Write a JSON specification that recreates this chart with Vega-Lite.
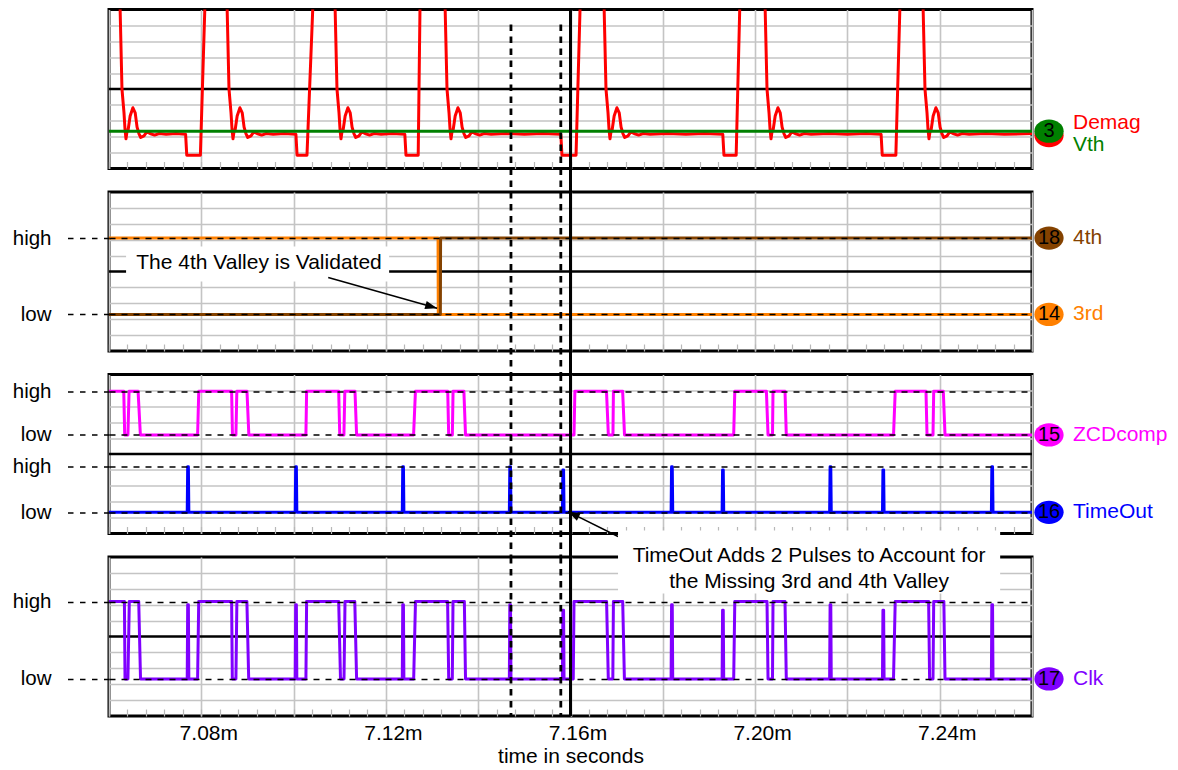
{
"$schema": "https://vega.github.io/schema/vega-lite/v6.json",
"background": "white",
"padding": {"left": 10, "top": 6.5, "right": 5, "bottom": 5},
"bounds": "flush",
"spacing": 23.5,
"config": {
  "font": "Liberation Sans",
  "view": {"stroke": "black", "strokeWidth": 3, "fill": "white"},
  "axis": {"labelFont": "Liberation Sans", "titleFont": "Liberation Sans"}
},
"datasets": {
"demag": [
{"t":7060,"v":10.4},
{"t":7062.38,"v":10.4},{"t":7062.81,"v":5.0},{"t":7063.25,"v":3.5},{"t":7063.46,"v":2.5},{"t":7063.68,"v":1.87},{"t":7063.88,"v":2.3},{"t":7064.13,"v":2.4},{"t":7064.58,"v":3.3},{"t":7065.18,"v":3.82},{"t":7065.68,"v":3.5},{"t":7066.08,"v":2.6},{"t":7066.48,"v":2.2},{"t":7066.88,"v":1.95},{"t":7067.58,"v":2.05},{"t":7068.18,"v":2.3},{"t":7068.88,"v":2.2},{"t":7069.88,"v":2.1},{"t":7070.88,"v":2.2},{"t":7072.38,"v":2.15},{"t":7074.5,"v":2.2},{"t":7076.6,"v":2.15},{"t":7076.85,"v":0.84},{"t":7079.8,"v":0.84},{"t":7080.8,"v":10.4},
{"t":7085.57,"v":10.4},{"t":7086.0,"v":5.0},{"t":7086.44,"v":3.5},{"t":7086.65,"v":2.5},{"t":7086.87,"v":1.87},{"t":7087.07,"v":2.3},{"t":7087.32,"v":2.4},{"t":7087.77,"v":3.3},{"t":7088.37,"v":3.82},{"t":7088.87,"v":3.5},{"t":7089.27,"v":2.6},{"t":7089.67,"v":2.2},{"t":7090.07,"v":1.95},{"t":7090.77,"v":2.05},{"t":7091.37,"v":2.3},{"t":7092.07,"v":2.2},{"t":7093.07,"v":2.1},{"t":7094.07,"v":2.2},{"t":7095.57,"v":2.15},{"t":7098.0,"v":2.2},{"t":7100.5,"v":2.15},{"t":7100.75,"v":0.84},{"t":7102.9,"v":0.84},{"t":7104.2,"v":10.4},
{"t":7108.97,"v":10.4},{"t":7109.4,"v":5.0},{"t":7109.84,"v":3.5},{"t":7110.05,"v":2.5},{"t":7110.27,"v":1.87},{"t":7110.47,"v":2.3},{"t":7110.72,"v":2.4},{"t":7111.17,"v":3.3},{"t":7111.77,"v":3.82},{"t":7112.27,"v":3.5},{"t":7112.67,"v":2.6},{"t":7113.07,"v":2.2},{"t":7113.47,"v":1.95},{"t":7114.17,"v":2.05},{"t":7114.77,"v":2.3},{"t":7115.47,"v":2.2},{"t":7116.47,"v":2.1},{"t":7117.47,"v":2.2},{"t":7118.97,"v":2.15},{"t":7121.5,"v":2.2},{"t":7124.1,"v":2.15},{"t":7124.35,"v":0.84},{"t":7127.0,"v":0.84},{"t":7127.4,"v":10.4},
{"t":7132.81,"v":10.4},{"t":7133.24,"v":5.0},{"t":7133.68,"v":3.5},{"t":7133.89,"v":2.5},{"t":7134.11,"v":1.87},{"t":7134.31,"v":2.3},{"t":7134.56,"v":2.4},{"t":7135.01,"v":3.3},{"t":7135.61,"v":3.82},{"t":7136.11,"v":3.5},{"t":7136.51,"v":2.6},{"t":7136.91,"v":2.2},{"t":7137.31,"v":1.95},{"t":7138.01,"v":2.05},{"t":7138.61,"v":2.3},{"t":7139.31,"v":2.2},{"t":7140.31,"v":2.1},{"t":7141.31,"v":2.2},{"t":7142.81,"v":2.15},{"t":7146.0,"v":2.2},{"t":7150.0,"v":2.15},{"t":7154.0,"v":2.2},{"t":7157.9,"v":2.15},{"t":7158.15,"v":0.84},{"t":7161.2,"v":0.84},{"t":7162.1,"v":10.4},
{"t":7167.26,"v":10.4},{"t":7167.69,"v":5.0},{"t":7168.13,"v":3.5},{"t":7168.34,"v":2.5},{"t":7168.56,"v":1.87},{"t":7168.76,"v":2.3},{"t":7169.01,"v":2.4},{"t":7169.46,"v":3.3},{"t":7170.06,"v":3.82},{"t":7170.56,"v":3.5},{"t":7170.96,"v":2.6},{"t":7171.36,"v":2.2},{"t":7171.76,"v":1.95},{"t":7172.46,"v":2.05},{"t":7173.06,"v":2.3},{"t":7173.76,"v":2.2},{"t":7174.76,"v":2.1},{"t":7175.76,"v":2.2},{"t":7177.26,"v":2.15},{"t":7181.0,"v":2.2},{"t":7185.0,"v":2.15},{"t":7189.0,"v":2.2},{"t":7193.0,"v":2.15},{"t":7193.25,"v":0.84},{"t":7195.9,"v":0.84},{"t":7196.7,"v":10.4},
{"t":7202.15,"v":10.4},{"t":7202.58,"v":5.0},{"t":7203.02,"v":3.5},{"t":7203.23,"v":2.5},{"t":7203.45,"v":1.87},{"t":7203.65,"v":2.3},{"t":7203.9,"v":2.4},{"t":7204.35,"v":3.3},{"t":7204.95,"v":3.82},{"t":7205.45,"v":3.5},{"t":7205.85,"v":2.6},{"t":7206.25,"v":2.2},{"t":7206.65,"v":1.95},{"t":7207.35,"v":2.05},{"t":7207.95,"v":2.3},{"t":7208.65,"v":2.2},{"t":7209.65,"v":2.1},{"t":7210.65,"v":2.2},{"t":7212.15,"v":2.15},{"t":7216.0,"v":2.2},{"t":7220.0,"v":2.15},{"t":7224.0,"v":2.2},{"t":7227.3,"v":2.15},{"t":7227.55,"v":0.84},{"t":7230.5,"v":0.84},{"t":7231.4,"v":10.4},
{"t":7236.38,"v":10.4},{"t":7236.81,"v":5.0},{"t":7237.25,"v":3.5},{"t":7237.46,"v":2.5},{"t":7237.68,"v":1.87},{"t":7237.88,"v":2.3},{"t":7238.13,"v":2.4},{"t":7238.58,"v":3.3},{"t":7239.18,"v":3.82},{"t":7239.68,"v":3.5},{"t":7240.08,"v":2.6},{"t":7240.48,"v":2.2},{"t":7240.88,"v":1.95},{"t":7241.58,"v":2.05},{"t":7242.18,"v":2.3},{"t":7242.88,"v":2.2},{"t":7243.88,"v":2.1},{"t":7244.88,"v":2.2},{"t":7246.38,"v":2.15},{"t":7250.0,"v":2.2},{"t":7254.0,"v":2.15},{"t":7260.0,"v":2.2}
],
"vth": [{"t":7060,"v":2.35},{"t":7260,"v":2.35}],
"third": [{"t":7060,"v":7.1},{"t":7131.3,"v":7.1},{"t":7131.35,"v":2.3},{"t":7260,"v":2.3}],
"fourth": [{"t":7060,"v":2.3},{"t":7131.8,"v":2.3},{"t":7131.85,"v":7.1},{"t":7260,"v":7.1}],
"zcd": [
{"t":7060,"v":8.95},{"t":7063.2,"v":8.95},{"t":7063.4,"v":6.2},{"t":7064.1,"v":6.2},{"t":7064.35,"v":8.95},{"t":7066.3,"v":8.95},{"t":7066.8,"v":6.2},
{"t":7079.2,"v":6.2},{"t":7079.45,"v":8.95},{"t":7086.57,"v":8.95},{"t":7086.75,"v":6.2},{"t":7087.5,"v":6.2},{"t":7087.7,"v":8.95},{"t":7089.9,"v":8.95},{"t":7090.3,"v":6.2},
{"t":7102.67,"v":6.2},{"t":7102.82,"v":8.95},{"t":7109.77,"v":8.95},{"t":7110.0,"v":6.2},{"t":7110.9,"v":6.2},{"t":7111.1,"v":8.95},{"t":7113.3,"v":8.95},{"t":7113.65,"v":6.2},
{"t":7126.0,"v":6.2},{"t":7126.4,"v":8.95},{"t":7133.4,"v":8.95},{"t":7133.6,"v":6.2},{"t":7134.4,"v":6.2},{"t":7134.55,"v":8.95},{"t":7136.9,"v":8.95},{"t":7137.25,"v":6.2},
{"t":7160.76,"v":6.2},{"t":7160.95,"v":8.95},{"t":7167.8,"v":8.95},{"t":7168.2,"v":6.2},{"t":7169.2,"v":6.2},{"t":7169.3,"v":8.95},{"t":7171.3,"v":8.95},{"t":7171.7,"v":6.2},
{"t":7195.36,"v":6.2},{"t":7195.6,"v":8.95},{"t":7202.45,"v":8.95},{"t":7202.8,"v":6.2},{"t":7203.77,"v":6.2},{"t":7203.88,"v":8.95},{"t":7206.48,"v":8.95},{"t":7206.76,"v":6.2},
{"t":7230.0,"v":6.2},{"t":7230.36,"v":8.95},{"t":7237.03,"v":8.95},{"t":7237.25,"v":6.2},{"t":7238.55,"v":6.2},{"t":7238.7,"v":8.95},{"t":7240.78,"v":8.95},{"t":7241.15,"v":6.2},
{"t":7260,"v":6.2}
],
"timeout": [
{"t":7060,"v":1.33},
{"t":7076.95,"v":1.33},{"t":7077.05,"v":4.2},{"t":7077.2,"v":4.2},{"t":7077.3,"v":1.33},
{"t":7100.35,"v":1.33},{"t":7100.45,"v":4.2},{"t":7100.6,"v":4.2},{"t":7100.7,"v":1.33},
{"t":7123.55,"v":1.33},{"t":7123.65,"v":4.2},{"t":7123.8,"v":4.2},{"t":7123.9,"v":1.33},
{"t":7146.75,"v":1.33},{"t":7146.85,"v":4.2},{"t":7147.0,"v":4.2},{"t":7147.1,"v":1.33},
{"t":7158.25,"v":1.33},{"t":7158.35,"v":4.0},{"t":7158.5,"v":4.0},{"t":7158.6,"v":1.33},
{"t":7181.8,"v":1.33},{"t":7181.9,"v":4.2},{"t":7182.05,"v":4.2},{"t":7182.15,"v":1.33},
{"t":7192.85,"v":1.33},{"t":7192.95,"v":4.0},{"t":7193.1,"v":4.0},{"t":7193.2,"v":1.33},
{"t":7216.15,"v":1.33},{"t":7216.25,"v":4.2},{"t":7216.4,"v":4.2},{"t":7216.5,"v":1.33},
{"t":7227.6,"v":1.33},{"t":7227.7,"v":4.0},{"t":7227.85,"v":4.0},{"t":7227.95,"v":1.33},
{"t":7251.2,"v":1.33},{"t":7251.3,"v":4.2},{"t":7251.45,"v":4.2},{"t":7251.55,"v":1.33},
{"t":7260,"v":1.33}
],
"clk": [
{"t":7060,"v":7.2},{"t":7063.34,"v":7.2},{"t":7063.47,"v":2.33},{"t":7064.1,"v":2.33},{"t":7064.4,"v":7.2},{"t":7066.44,"v":7.2},{"t":7066.83,"v":2.33},
{"t":7076.95,"v":2.33},{"t":7077.05,"v":7.0},{"t":7077.2,"v":7.0},{"t":7077.3,"v":2.33},
{"t":7079.2,"v":2.33},{"t":7079.44,"v":7.2},{"t":7086.57,"v":7.2},{"t":7086.72,"v":2.33},{"t":7087.5,"v":2.33},{"t":7087.71,"v":7.2},{"t":7089.88,"v":7.2},{"t":7090.27,"v":2.33},
{"t":7100.35,"v":2.33},{"t":7100.45,"v":7.0},{"t":7100.6,"v":7.0},{"t":7100.7,"v":2.33},
{"t":7102.67,"v":2.33},{"t":7102.82,"v":7.2},{"t":7109.77,"v":7.2},{"t":7110.16,"v":2.33},{"t":7110.92,"v":2.33},{"t":7111.14,"v":7.2},{"t":7113.26,"v":7.2},{"t":7113.65,"v":2.33},
{"t":7123.55,"v":2.33},{"t":7123.65,"v":7.0},{"t":7123.8,"v":7.0},{"t":7123.9,"v":2.33},
{"t":7126.02,"v":2.33},{"t":7126.41,"v":7.2},{"t":7133.37,"v":7.2},{"t":7133.61,"v":2.33},{"t":7134.39,"v":2.33},{"t":7134.54,"v":7.2},{"t":7137.0,"v":7.2},{"t":7137.25,"v":2.33},
{"t":7146.75,"v":2.33},{"t":7146.85,"v":7.0},{"t":7147.0,"v":7.0},{"t":7147.1,"v":2.33},
{"t":7158.25,"v":2.33},{"t":7158.35,"v":6.65},{"t":7158.5,"v":6.65},{"t":7158.6,"v":2.33},
{"t":7160.6,"v":2.33},{"t":7160.76,"v":7.2},{"t":7167.82,"v":7.2},{"t":7168.19,"v":2.33},{"t":7169.17,"v":2.33},{"t":7169.3,"v":7.2},{"t":7171.31,"v":7.2},{"t":7171.68,"v":2.33},
{"t":7181.8,"v":2.33},{"t":7181.9,"v":7.0},{"t":7182.05,"v":7.0},{"t":7182.15,"v":2.33},
{"t":7192.85,"v":2.33},{"t":7192.95,"v":6.65},{"t":7193.1,"v":6.65},{"t":7193.2,"v":2.33},
{"t":7195.36,"v":2.33},{"t":7195.6,"v":7.2},{"t":7202.58,"v":7.2},{"t":7202.8,"v":2.33},{"t":7203.77,"v":2.33},{"t":7203.88,"v":7.2},{"t":7206.48,"v":7.2},{"t":7206.76,"v":2.33},
{"t":7216.15,"v":2.33},{"t":7216.25,"v":7.0},{"t":7216.4,"v":7.0},{"t":7216.5,"v":2.33},
{"t":7227.6,"v":2.33},{"t":7227.7,"v":6.65},{"t":7227.85,"v":6.65},{"t":7227.95,"v":2.33},
{"t":7229.99,"v":2.33},{"t":7230.36,"v":7.2},{"t":7237.6,"v":7.2},{"t":7237.81,"v":2.33},{"t":7238.55,"v":2.33},{"t":7238.7,"v":7.2},{"t":7240.9,"v":7.2},{"t":7241.15,"v":2.33},
{"t":7251.2,"v":2.33},{"t":7251.3,"v":7.0},{"t":7251.45,"v":7.0},{"t":7251.55,"v":2.33},
{"t":7260,"v":2.33}
],
"cursors": [{"t":7147.1},{"t":7157.9}],
"now": [{"t":7160}],
"labels": [
{"name":"Demag","num":"3","t":7260,"v":2.2},
{"name":"Vth","num":"3","t":7260,"v":2.35},
{"name":"4th","num":"18","t":7260,"v":7.1},
{"name":"3rd","num":"14","t":7260,"v":2.3},
{"name":"ZCDcomp","num":"15","t":7260,"v":6.2},
{"name":"TimeOut","num":"16","t":7260,"v":1.33},
{"name":"Clk","num":"17","t":7260,"v":2.33}
],
"boxes": [
{"id":"valley","t1":7063.7,"t2":7120.7,"v1":4.37,"v2":6.57,"t":7092.5,"v":5.53,"label":"The 4th Valley is Validated"},
{"id":"timeout","t1":7170.3,"t2":7253.1,"v1":7.7,"v2":11.67,"t":7211.7,"v":10.09,"label":["TimeOut Adds 2 Pulses to Account for","the Missing 3rd and 4th Valley"]}
],
"arrows": [
{"id":"valley","from_t":7107.5,"from_v":4.62,"to_t":7131.1,"to_v":2.69},
{"id":"timeout","from_t":7170.3,"from_v":-0.19,"to_t":7159.46,"to_v":1.38}
]
},
"vconcat": [
{
"width": 923, "height": 159,
"resolve": {"axis": {"x": "independent", "y": "independent"}},
"layer": [
{"data": {"values": [{}]}, "mark": {"type": "rule", "color": "black", "strokeWidth": 2.6},
 "encoding": {"y": {"datum": 5, "type": "quantitative", "scale": {"domain": [0, 10], "nice": false, "zero": false}, "axis": null}}},
{"data": {"name": "demag"}, "mark": {"type": "line", "color": "#ff0000", "strokeWidth": 3, "strokeJoin": "round", "clip": true},
 "encoding": {
  "x": {"field": "t", "type": "quantitative", "scale": {"domain": [7060, 7260], "nice": false, "zero": false},
   "axis": {"orient": "bottom", "values": [7060,7080,7100,7120,7140,7160,7180,7200,7220,7240,7260], "title": null, "domain": false, "labels": false, "ticks": false, "grid": true, "gridColor": "#c4c4c4", "gridWidth": 1.6}},
  "y": {"field": "v", "type": "quantitative", "scale": {"domain": [0, 10], "nice": false, "zero": false},
   "axis": {"orient": "left", "values": [1,2,3,4,6,7,8,9], "title": null, "domain": false, "labels": false, "ticks": false, "grid": true, "gridColor": "#c4c4c4", "gridWidth": 1.6}}
 }},
{"data": {"name": "vth"}, "mark": {"type": "line", "color": "#008000", "strokeWidth": 3},
 "encoding": {
  "x": {"field": "t", "type": "quantitative",
   "axis": {"orient": "bottom", "values": [7060,7064,7068,7072,7076,7080,7084,7088,7092,7096,7100,7104,7108,7112,7116,7120,7124,7128,7132,7136,7140,7144,7148,7152,7156,7160,7164,7168,7172,7176,7180,7184,7188,7192,7196,7200,7204,7208,7212,7216,7220,7224,7228,7232,7236,7240,7244,7248,7252,7256,7260], "title": null, "domain": false, "labels": false, "grid": false, "ticks": true, "tickSize": -7, "tickColor": "#b8b8b8", "tickWidth": 1.2}},
  "y": {"field": "v", "type": "quantitative", "axis": null}}},
{"data": {"name": "cursors"}, "mark": {"type": "rule", "color": "black", "strokeWidth": 2.8, "strokeDash": [6.5, 5.5]},
 "encoding": {"x": {"field": "t", "type": "quantitative", "axis": null}, "y": {"datum": 9.06, "axis": null}, "y2": {"datum": -1.48}}},
{"data": {"name": "now"}, "mark": {"type": "rule", "color": "black", "strokeWidth": 3},
 "encoding": {"x": {"field": "t", "type": "quantitative", "axis": null}, "y": {"datum": 10, "axis": null}, "y2": {"datum": -1.48}}},
{"data": {"name": "labels"}, "transform": [{"filter": "datum.name == 'Demag'"}],
 "mark": {"type": "point", "shape": "M -1.26 0 A 1.26 1 0 1 0 1.26 0 A 1.26 1 0 1 0 -1.26 0 Z", "size": 540, "filled": true, "opacity": 1, "strokeWidth": 0, "xOffset": 17, "yOffset": 2},
 "encoding": {"x": {"field": "t", "type": "quantitative", "axis": null}, "y": {"field": "v", "type": "quantitative", "axis": null},
  "color": {"field": "name", "type": "nominal", "scale": {"domain": ["Demag","Vth","4th","3rd","ZCDcomp","TimeOut","Clk"], "range": ["#ff0000","#008000","#844200","#ff8000","#ff00ff","#0000ff","#8000ff"]}, "legend": null}}},
{"data": {"name": "labels"}, "transform": [{"filter": "datum.name == 'Vth'"}],
 "mark": {"type": "point", "shape": "M -1.26 0 A 1.26 1 0 1 0 1.26 0 A 1.26 1 0 1 0 -1.26 0 Z", "size": 540, "filled": true, "opacity": 1, "strokeWidth": 0, "xOffset": 17},
 "encoding": {"x": {"field": "t", "type": "quantitative", "axis": null}, "y": {"field": "v", "type": "quantitative", "axis": null},
  "color": {"field": "name", "type": "nominal", "legend": null}}},
{"data": {"name": "labels"}, "transform": [{"filter": "datum.name == 'Vth'"}],
 "mark": {"type": "text", "dx": 17, "fontSize": 20, "color": "black", "align": "center", "baseline": "middle"},
 "encoding": {"x": {"field": "t", "type": "quantitative", "axis": null}, "y": {"field": "v", "type": "quantitative", "axis": null}, "text": {"field": "num"}}},
{"data": {"name": "labels"}, "transform": [{"filter": "datum.name == 'Demag'"}],
 "mark": {"type": "text", "dx": 41, "dy": -10.5, "fontSize": 21, "align": "left", "baseline": "middle"},
 "encoding": {"x": {"field": "t", "type": "quantitative", "axis": null}, "y": {"field": "v", "type": "quantitative", "axis": null}, "text": {"field": "name"},
  "color": {"field": "name", "type": "nominal", "legend": null}}},
{"data": {"name": "labels"}, "transform": [{"filter": "datum.name == 'Vth'"}],
 "mark": {"type": "text", "dx": 41, "dy": 13.4, "fontSize": 21, "align": "left", "baseline": "middle"},
 "encoding": {"x": {"field": "t", "type": "quantitative", "axis": null}, "y": {"field": "v", "type": "quantitative", "axis": null}, "text": {"field": "name"},
  "color": {"field": "name", "type": "nominal", "legend": null}}}
]
},
{
"width": 923, "height": 159,
"resolve": {"axis": {"x": "independent", "y": "independent"}},
"layer": [
{"data": {"values": [{}]}, "mark": {"type": "rule", "color": "black", "strokeWidth": 2.6},
 "encoding": {"y": {"datum": 5, "type": "quantitative", "scale": {"domain": [0, 10], "nice": false, "zero": false},
  "axis": {"orient": "left", "values": [7.1, 2.3], "title": null, "domain": false, "grid": true, "gridColor": "black", "gridWidth": 1.5, "gridDash": [6, 6],
   "ticks": true, "tickSize": 46, "tickColor": "black", "tickWidth": 1.5, "tickDash": [5.5, 6.5],
   "labelExpr": "datum.value > 5 ? 'high' : 'low'", "labelFontSize": 20.5, "labelColor": "black", "labelPadding": 12, "labelOverlap": false, "labelFlush": false, "labelBound": false, "zindex": 1}}}},
{"data": {"name": "third"}, "mark": {"type": "line", "color": "#ff8000", "strokeWidth": 3, "strokeJoin": "round"},
 "encoding": {
  "x": {"field": "t", "type": "quantitative", "scale": {"domain": [7060, 7260], "nice": false, "zero": false},
   "axis": {"orient": "bottom", "values": [7060,7080,7100,7120,7140,7160,7180,7200,7220,7240,7260], "title": null, "domain": false, "labels": false, "ticks": false, "grid": true, "gridColor": "#c4c4c4", "gridWidth": 1.6}},
  "y": {"field": "v", "type": "quantitative", "scale": {"domain": [0, 10], "nice": false, "zero": false},
   "axis": {"orient": "left", "values": [1,2,3,4,6,7,8,9], "title": null, "domain": false, "labels": false, "ticks": false, "grid": true, "gridColor": "#c4c4c4", "gridWidth": 1.6}}
 }},
{"data": {"name": "fourth"}, "mark": {"type": "line", "color": "#844200", "strokeWidth": 3, "strokeJoin": "round"},
 "encoding": {
  "x": {"field": "t", "type": "quantitative",
   "axis": {"orient": "bottom", "values": [7060,7064,7068,7072,7076,7080,7084,7088,7092,7096,7100,7104,7108,7112,7116,7120,7124,7128,7132,7136,7140,7144,7148,7152,7156,7160,7164,7168,7172,7176,7180,7184,7188,7192,7196,7200,7204,7208,7212,7216,7220,7224,7228,7232,7236,7240,7244,7248,7252,7256,7260], "title": null, "domain": false, "labels": false, "grid": false, "ticks": true, "tickSize": -7, "tickColor": "#b8b8b8", "tickWidth": 1.2}},
  "y": {"field": "v", "type": "quantitative", "axis": null}}},
{"data": {"name": "boxes"}, "transform": [{"filter": "datum.id == 'valley'"}], "mark": {"type": "rect", "fill": "white", "strokeWidth": 0},
 "encoding": {"x": {"field": "t1", "type": "quantitative", "axis": null}, "x2": {"field": "t2"}, "y": {"field": "v1", "type": "quantitative", "axis": null}, "y2": {"field": "v2"}}},
{"data": {"name": "boxes"}, "transform": [{"filter": "datum.id == 'valley'"}], "mark": {"type": "text", "fontSize": 21, "color": "black", "align": "center", "baseline": "middle"},
 "encoding": {"x": {"field": "t", "type": "quantitative", "axis": null}, "y": {"field": "v", "type": "quantitative", "axis": null}, "text": {"field": "label"}}},
{"data": {"name": "arrows"}, "transform": [{"filter": "datum.id == 'valley'"}], "mark": {"type": "rule", "color": "black", "strokeWidth": 1.5},
 "encoding": {"x": {"field": "from_t", "type": "quantitative", "axis": null}, "y": {"field": "from_v", "type": "quantitative", "axis": null}, "x2": {"field": "to_t"}, "y2": {"field": "to_v"}}},
{"data": {"name": "arrows"}, "transform": [{"filter": "datum.id == 'valley'"}], "mark": {"type": "point", "shape": "M 0 0 L -2 -0.7 L -2 0.7 Z", "size": 144, "filled": true, "opacity": 1, "color": "black", "strokeWidth": 0, "angle": 15.7},
 "encoding": {"x": {"field": "to_t", "type": "quantitative", "axis": null}, "y": {"field": "to_v", "type": "quantitative", "axis": null}}},
{"data": {"name": "cursors"}, "mark": {"type": "rule", "color": "black", "strokeWidth": 2.8, "strokeDash": [6.5, 5.5]},
 "encoding": {"x": {"field": "t", "type": "quantitative", "axis": null}, "y": {"datum": 10, "axis": null}, "y2": {"datum": -1.48}}},
{"data": {"name": "now"}, "mark": {"type": "rule", "color": "black", "strokeWidth": 3},
 "encoding": {"x": {"field": "t", "type": "quantitative", "axis": null}, "y": {"datum": 10, "axis": null}, "y2": {"datum": -1.48}}},
{"data": {"name": "labels"}, "transform": [{"filter": "datum.name == '4th' || datum.name == '3rd'"}],
 "mark": {"type": "point", "shape": "M -1.26 0 A 1.26 1 0 1 0 1.26 0 A 1.26 1 0 1 0 -1.26 0 Z", "size": 540, "filled": true, "opacity": 1, "strokeWidth": 0, "xOffset": 17},
 "encoding": {"x": {"field": "t", "type": "quantitative", "axis": null}, "y": {"field": "v", "type": "quantitative", "axis": null},
  "color": {"field": "name", "type": "nominal", "legend": null}}},
{"data": {"name": "labels"}, "transform": [{"filter": "datum.name == '4th' || datum.name == '3rd'"}],
 "mark": {"type": "text", "dx": 17, "fontSize": 20, "color": "black", "align": "center", "baseline": "middle"},
 "encoding": {"x": {"field": "t", "type": "quantitative", "axis": null}, "y": {"field": "v", "type": "quantitative", "axis": null}, "text": {"field": "num"}}},
{"data": {"name": "labels"}, "transform": [{"filter": "datum.name == '4th' || datum.name == '3rd'"}],
 "mark": {"type": "text", "dx": 41, "fontSize": 21, "align": "left", "baseline": "middle"},
 "encoding": {"x": {"field": "t", "type": "quantitative", "axis": null}, "y": {"field": "v", "type": "quantitative", "axis": null}, "text": {"field": "name"},
  "color": {"field": "name", "type": "nominal", "legend": null}}}
]
},
{
"width": 923, "height": 159,
"resolve": {"axis": {"x": "independent", "y": "independent"}},
"layer": [
{"data": {"values": [{}]}, "mark": {"type": "rule", "color": "black", "strokeWidth": 2.6},
 "encoding": {"y": {"datum": 5, "type": "quantitative", "scale": {"domain": [0, 10], "nice": false, "zero": false},
  "axis": {"orient": "left", "values": [8.95, 6.2, 4.2, 1.33], "title": null, "domain": false, "grid": true, "gridColor": "black", "gridWidth": 1.5, "gridDash": [6, 6],
   "ticks": true, "tickSize": 46, "tickColor": "black", "tickWidth": 1.5, "tickDash": [5.5, 6.5],
   "labelExpr": "datum.value == 8.95 || datum.value == 4.2 ? 'high' : 'low'", "labelFontSize": 20.5, "labelColor": "black", "labelPadding": 12, "labelOverlap": false, "labelFlush": false, "labelBound": false, "zindex": 1}}}},
{"data": {"name": "zcd"}, "mark": {"type": "line", "color": "#ff00ff", "strokeWidth": 3, "strokeJoin": "round"},
 "encoding": {
  "x": {"field": "t", "type": "quantitative", "scale": {"domain": [7060, 7260], "nice": false, "zero": false},
   "axis": {"orient": "bottom", "values": [7060,7080,7100,7120,7140,7160,7180,7200,7220,7240,7260], "title": null, "domain": false, "labels": false, "ticks": false, "grid": true, "gridColor": "#c4c4c4", "gridWidth": 1.6}},
  "y": {"field": "v", "type": "quantitative", "scale": {"domain": [0, 10], "nice": false, "zero": false},
   "axis": {"orient": "left", "values": [1,2,3,4,6,7,8,9], "title": null, "domain": false, "labels": false, "ticks": false, "grid": true, "gridColor": "#c4c4c4", "gridWidth": 1.6}}
 }},
{"data": {"name": "timeout"}, "mark": {"type": "line", "color": "#0000ff", "strokeWidth": 3, "strokeJoin": "round"},
 "encoding": {
  "x": {"field": "t", "type": "quantitative",
   "axis": {"orient": "bottom", "values": [7060,7064,7068,7072,7076,7080,7084,7088,7092,7096,7100,7104,7108,7112,7116,7120,7124,7128,7132,7136,7140,7144,7148,7152,7156,7160,7164,7168,7172,7176,7180,7184,7188,7192,7196,7200,7204,7208,7212,7216,7220,7224,7228,7232,7236,7240,7244,7248,7252,7256,7260], "title": null, "domain": false, "labels": false, "grid": false, "ticks": true, "tickSize": -7, "tickColor": "#b8b8b8", "tickWidth": 1.2}},
  "y": {"field": "v", "type": "quantitative", "axis": null}}},
{"data": {"name": "cursors"}, "mark": {"type": "rule", "color": "black", "strokeWidth": 2.8, "strokeDash": [6.5, 5.5]},
 "encoding": {"x": {"field": "t", "type": "quantitative", "axis": null}, "y": {"datum": 10, "axis": null}, "y2": {"datum": -1.48}}},
{"data": {"name": "now"}, "mark": {"type": "rule", "color": "black", "strokeWidth": 3},
 "encoding": {"x": {"field": "t", "type": "quantitative", "axis": null}, "y": {"datum": 10, "axis": null}, "y2": {"datum": -1.48}}},
{"data": {"name": "arrows"}, "transform": [{"filter": "datum.id == 'timeout'"}], "mark": {"type": "rule", "color": "black", "strokeWidth": 1.5},
 "encoding": {"x": {"field": "from_t", "type": "quantitative", "axis": null}, "y": {"field": "from_v", "type": "quantitative", "axis": null}, "x2": {"field": "to_t"}, "y2": {"field": "to_v"}}},
{"data": {"name": "arrows"}, "transform": [{"filter": "datum.id == 'timeout'"}], "mark": {"type": "point", "shape": "M 0 0 L -2 -0.7 L -2 0.7 Z", "size": 144, "filled": true, "opacity": 1, "color": "black", "strokeWidth": 0, "angle": 206.6},
 "encoding": {"x": {"field": "to_t", "type": "quantitative", "axis": null}, "y": {"field": "to_v", "type": "quantitative", "axis": null}}},
{"data": {"name": "labels"}, "transform": [{"filter": "datum.name == 'ZCDcomp' || datum.name == 'TimeOut'"}],
 "mark": {"type": "point", "shape": "M -1.26 0 A 1.26 1 0 1 0 1.26 0 A 1.26 1 0 1 0 -1.26 0 Z", "size": 540, "filled": true, "opacity": 1, "strokeWidth": 0, "xOffset": 17},
 "encoding": {"x": {"field": "t", "type": "quantitative", "axis": null}, "y": {"field": "v", "type": "quantitative", "axis": null},
  "color": {"field": "name", "type": "nominal", "legend": null}}},
{"data": {"name": "labels"}, "transform": [{"filter": "datum.name == 'ZCDcomp' || datum.name == 'TimeOut'"}],
 "mark": {"type": "text", "dx": 17, "fontSize": 20, "color": "black", "align": "center", "baseline": "middle"},
 "encoding": {"x": {"field": "t", "type": "quantitative", "axis": null}, "y": {"field": "v", "type": "quantitative", "axis": null}, "text": {"field": "num"}}},
{"data": {"name": "labels"}, "transform": [{"filter": "datum.name == 'ZCDcomp' || datum.name == 'TimeOut'"}],
 "mark": {"type": "text", "dx": 41, "fontSize": 21, "align": "left", "baseline": "middle"},
 "encoding": {"x": {"field": "t", "type": "quantitative", "axis": null}, "y": {"field": "v", "type": "quantitative", "axis": null}, "text": {"field": "name"},
  "color": {"field": "name", "type": "nominal", "legend": null}}}
]
},
{
"width": 923, "height": 159,
"resolve": {"axis": {"x": "independent", "y": "independent"}},
"layer": [
{"data": {"values": [{}]}, "mark": {"type": "rule", "color": "black", "strokeWidth": 2.6},
 "encoding": {"y": {"datum": 5, "type": "quantitative", "scale": {"domain": [0, 10], "nice": false, "zero": false},
  "axis": {"orient": "left", "values": [7.2, 2.33], "title": null, "domain": false, "grid": true, "gridColor": "black", "gridWidth": 1.5, "gridDash": [6, 6],
   "ticks": true, "tickSize": 46, "tickColor": "black", "tickWidth": 1.5, "tickDash": [5.5, 6.5],
   "labelExpr": "datum.value > 5 ? 'high' : 'low'", "labelFontSize": 20.5, "labelColor": "black", "labelPadding": 12, "labelOverlap": false, "labelFlush": false, "labelBound": false, "zindex": 1}}}},
{"data": {"name": "clk"}, "mark": {"type": "line", "color": "#8000ff", "strokeWidth": 3, "strokeJoin": "round"},
 "encoding": {
  "x": {"field": "t", "type": "quantitative", "scale": {"domain": [7060, 7260], "nice": false, "zero": false},
   "axis": {"orient": "bottom", "values": [7060,7080,7100,7120,7140,7160,7180,7200,7220,7240,7260], "domain": false, "ticks": false, "grid": true, "gridColor": "#c4c4c4", "gridWidth": 1.6,
    "labels": true, "labelExpr": "(datum.value - 7080) % 40 == 0 ? format(datum.value / 1000, '.2f') + 'm' : ''",
    "labelFontSize": 21, "labelColor": "black", "labelPadding": 6, "labelOffset": 7, "labelOverlap": false, "labelFlush": false, "labelBound": false,
    "title": "time in seconds", "titleFontSize": 21, "titleFontWeight": "normal", "titleColor": "black", "titlePadding": 2}},
  "y": {"field": "v", "type": "quantitative", "scale": {"domain": [0, 10], "nice": false, "zero": false},
   "axis": {"orient": "left", "values": [1,2,3,4,6,7,8,9], "title": null, "domain": false, "labels": false, "ticks": false, "grid": true, "gridColor": "#c4c4c4", "gridWidth": 1.6}}
 }},
{"data": {"name": "cursors"}, "mark": {"type": "rule", "color": "black", "strokeWidth": 2.8, "strokeDash": [6.5, 5.5]},
 "encoding": {"x": {"field": "t", "type": "quantitative",
   "axis": {"orient": "bottom", "values": [7060,7064,7068,7072,7076,7080,7084,7088,7092,7096,7100,7104,7108,7112,7116,7120,7124,7128,7132,7136,7140,7144,7148,7152,7156,7160,7164,7168,7172,7176,7180,7184,7188,7192,7196,7200,7204,7208,7212,7216,7220,7224,7228,7232,7236,7240,7244,7248,7252,7256,7260], "title": null, "domain": false, "labels": false, "grid": false, "ticks": true, "tickSize": -7, "tickColor": "#b8b8b8", "tickWidth": 1.2}},
  "y": {"datum": 10, "axis": null}, "y2": {"datum": 0}}},
{"data": {"name": "now"}, "mark": {"type": "rule", "color": "black", "strokeWidth": 3},
 "encoding": {"x": {"field": "t", "type": "quantitative", "axis": null}, "y": {"datum": 10, "axis": null}, "y2": {"datum": 0}}},
{"data": {"name": "boxes"}, "transform": [{"filter": "datum.id == 'timeout'"}], "mark": {"type": "rect", "fill": "white", "strokeWidth": 0},
 "encoding": {"x": {"field": "t1", "type": "quantitative", "axis": null}, "x2": {"field": "t2"}, "y": {"field": "v1", "type": "quantitative", "axis": null}, "y2": {"field": "v2"}}},
{"data": {"name": "boxes"}, "transform": [{"filter": "datum.id == 'timeout'"}], "mark": {"type": "text", "fontSize": 21, "color": "black", "align": "center", "baseline": "middle", "lineHeight": 26},
 "encoding": {"x": {"field": "t", "type": "quantitative", "axis": null}, "y": {"field": "v", "type": "quantitative", "axis": null}, "text": {"field": "label"}}},
{"data": {"name": "labels"}, "transform": [{"filter": "datum.name == 'Clk'"}],
 "mark": {"type": "point", "shape": "M -1.26 0 A 1.26 1 0 1 0 1.26 0 A 1.26 1 0 1 0 -1.26 0 Z", "size": 540, "filled": true, "opacity": 1, "strokeWidth": 0, "xOffset": 17},
 "encoding": {"x": {"field": "t", "type": "quantitative", "axis": null}, "y": {"field": "v", "type": "quantitative", "axis": null},
  "color": {"field": "name", "type": "nominal", "legend": null}}},
{"data": {"name": "labels"}, "transform": [{"filter": "datum.name == 'Clk'"}],
 "mark": {"type": "text", "dx": 17, "fontSize": 20, "color": "black", "align": "center", "baseline": "middle"},
 "encoding": {"x": {"field": "t", "type": "quantitative", "axis": null}, "y": {"field": "v", "type": "quantitative", "axis": null}, "text": {"field": "num"}}},
{"data": {"name": "labels"}, "transform": [{"filter": "datum.name == 'Clk'"}],
 "mark": {"type": "text", "dx": 41, "fontSize": 21, "align": "left", "baseline": "middle"},
 "encoding": {"x": {"field": "t", "type": "quantitative", "axis": null}, "y": {"field": "v", "type": "quantitative", "axis": null}, "text": {"field": "name"},
  "color": {"field": "name", "type": "nominal", "legend": null}}}
]
}
]
}
